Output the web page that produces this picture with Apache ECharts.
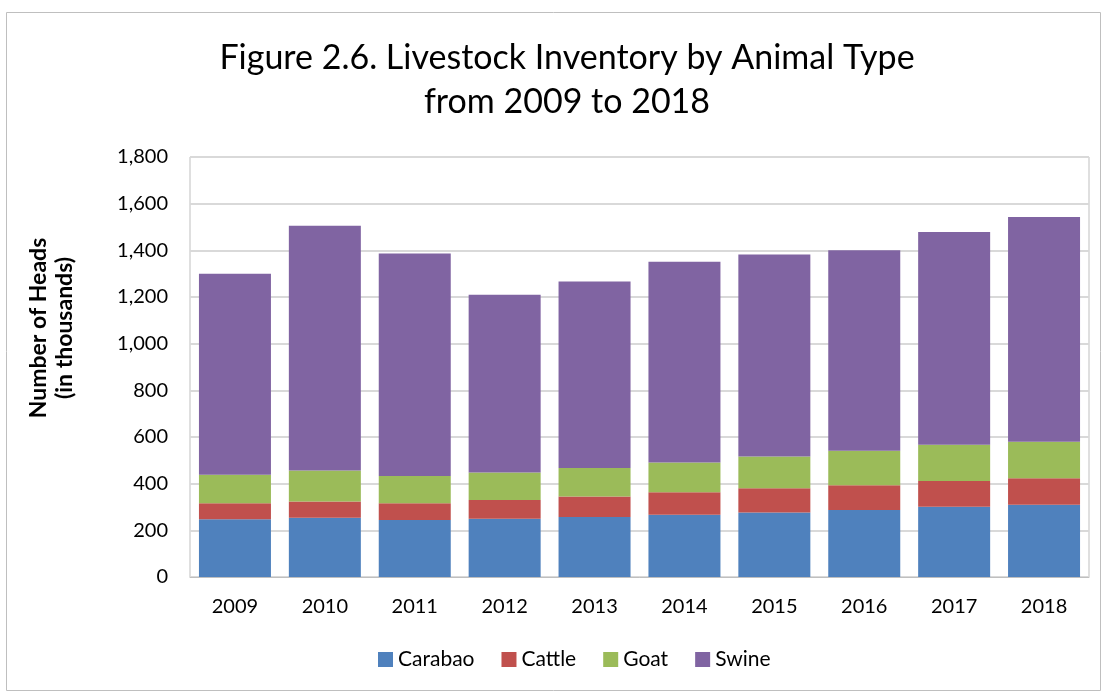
<!DOCTYPE html>
<html><head><meta charset="utf-8">
<script src="https://cdn.jsdelivr.net/npm/echarts@6/dist/echarts.min.js"></script>
<style>html,body{margin:0;padding:0;background:#fff}#c{width:1107px;height:693px}</style>
</head><body><div id="c"></div>
<script>
const categories = ['2009','2010','2011','2012','2013','2014','2015','2016','2017','2018'];
const carabao = [247,254,244,250,257,267,276,287,301,310];
const cattle = [69,70,72,80,88,96,104,106,110,113];
const goat = [122,132,117,118,122,128,136,148,156,157];
const swine = [862,1049,953,762,799,860,866,859,912,963];
const yTicks = [0,200,400,600,800,1000,1200,1400,1600,1800];

const FONT = 'Lato';
const colors = ['#4f81bd','#c0504d','#9bbb59','#8064a2'];
const names = ['Carabao','Cattle','Goat','Swine'];
const datas = [carabao,cattle,goat,swine];
const chart = echarts.init(document.getElementById('c'));
chart.setOption({
  animation:false,
  textStyle:{fontFamily:FONT},
  title:{text:'Figure 2.6. Livestock Inventory by Animal Type\nfrom 2009 to 2018',left:562,textAlign:'center',top:31,
    textStyle:{fontFamily:FONT,fontSize:34,fontWeight:'normal',color:'#000',lineHeight:44}},
  legend:{bottom:18,left:373,itemWidth:15,itemHeight:15,itemGap:27,icon:'rect',
    textStyle:{fontFamily:FONT,fontSize:21,color:'#000'},data:names},
  graphic:[
    {type:'rect',shape:{x:6.5,y:12.5,width:1094,height:678},style:{fill:null,stroke:'#bfbfbf',lineWidth:1},z:-1},
    {type:'text',x:52,y:328,rotation:Math.PI/2,
      style:{text:'Number of Heads\n(in thousands)',align:'center',verticalAlign:'middle',
        font:'bold 23px Lato',fill:'#000',lineHeight:26}}
  ],
  grid:{left:190,top:157,right:18,bottom:116,containLabel:false,show:true,borderColor:'#bfbfbf',borderWidth:1},
  xAxis:{type:'category',data:categories,axisTick:{show:false},
    axisLine:{lineStyle:{color:'#bfbfbf',width:1}},
    axisLabel:{fontFamily:FONT,fontSize:20,color:'#000',margin:20}},
  yAxis:{type:'value',min:0,max:1800,interval:200,
    axisLine:{show:false},axisTick:{show:false},
    splitLine:{lineStyle:{color:'#d9d9d9',width:2}},
    axisLabel:{fontFamily:FONT,fontSize:20,color:'#000',margin:22,
      formatter:v=>yTicks.includes(v)?v.toLocaleString('en-US'):''}},
  series:datas.map((d,i)=>({name:names[i],type:'bar',stack:'t',data:d,barWidth:72,
    itemStyle:{color:colors[i]}}))
});
</script></body></html>
